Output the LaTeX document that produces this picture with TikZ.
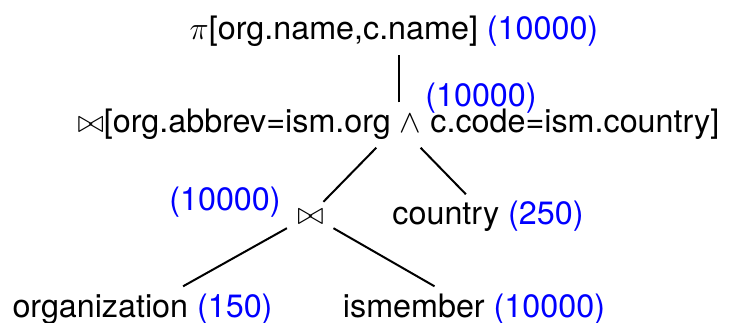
\RequirePackage{fix-cm}
\documentclass[tikz,border=0pt]{standalone}
\usepackage{fontspec}
\setmainfont{TeX Gyre Heros}
\begin{document}
\begin{tikzpicture}[x=1pt,y=-1pt,
  font=\fontsize{32.3pt}{38pt}\selectfont,
  tn/.style={inner sep=6.5pt, text height=24pt, text depth=8pt, anchor=base},
  edge/.style={line width=2pt},
  cnt/.style={text=blue, inner sep=0pt, anchor=base}]
\useasboundingbox (0,0) rectangle (734,323);
\node[tn] (proj) at (394,40) {$\pi$[org.name,c.name] \textcolor{blue}{(10000)}};
\node[tn] (join) at (398.5,133) {$\bowtie$[org.abbrev=ism.org $\wedge$ c.code=ism.country]};
\node[cnt] (jc) at (481,107) {(10000)};
\node[inner sep=0pt, text height=23pt, text depth=3pt, minimum width=60pt, anchor=base] (bj) at (310.5,225) {$\bowtie$};
\node[cnt] (bjc) at (225,211) {(10000)};
\node[tn] (country) at (488,225) {country \textcolor{blue}{(250)}};
\node[tn] (org) at (142.5,317) {organization \textcolor{blue}{(150)}};
\node[tn] (ism) at (474,317) {ismember \textcolor{blue}{(10000)}};
\draw[edge] (join.north) -- (join.north |- proj.south);
\draw[edge] (join) -- (bj);
\draw[edge] (join) -- (country);
\draw[edge] (bj) -- (org);
\draw[edge] (bj) -- (ism);
\end{tikzpicture}
\end{document}
